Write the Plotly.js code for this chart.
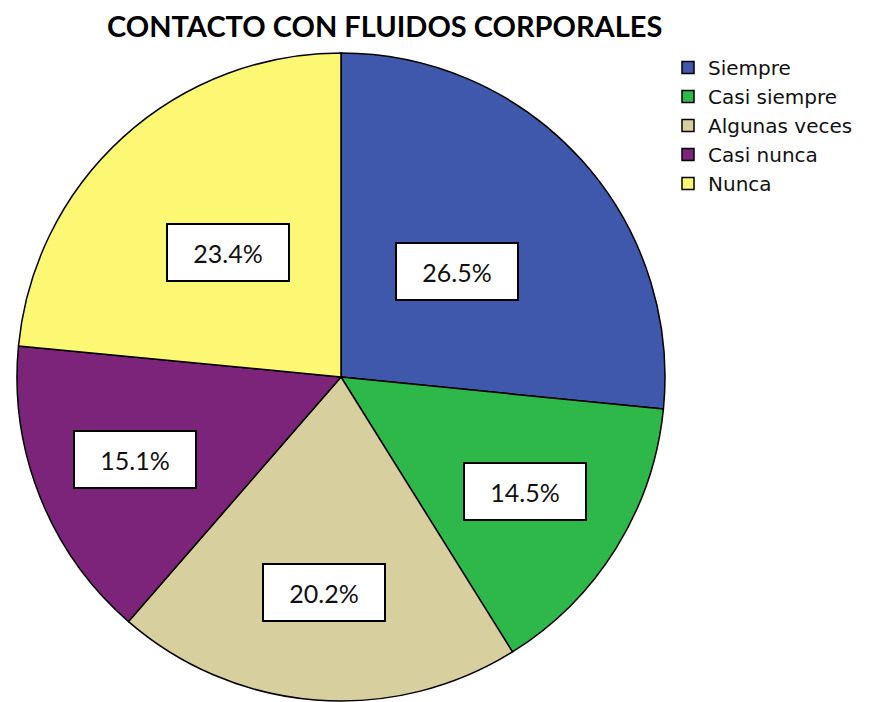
<!DOCTYPE html>
<html>
<head>
<meta charset="utf-8">
<script src="https://cdn.plot.ly/plotly-3.0.1.min.js"></script>
<style>html,body{margin:0;padding:0;background:#fff}#chart{width:879px;height:702px}</style>
</head>
<body>
<div id="chart"></div>
<script>
// Data
const categories = ["Siempre", "Casi siempre", "Algunas veces", "Casi nunca", "Nunca"];
const percentages = [26.5, 14.5, 20.2, 15.1, 23.4];
const percentLabels = ["26.5%", "14.5%", "20.2%", "15.1%", "23.4%"];
const colors = ["#3F58AB", "#2FB84A", "#D7CF9E", "#7B2479", "#FCF873"];
const chartTitle = "CONTACTO CON FLUIDOS CORPORALES";

// Layout (pixels)
const W = 879, H = 702;
const cx = 341, cy = 377, R = 324;
const labelRadius = [0.485, 0.667, 0.667, 0.685, 0.52];

const total = percentages.reduce((a, b) => a + b, 0);
const annotations = [];
let cum = 0;
percentages.forEach((v, i) => {
  const mid = (cum + v / 2) / total * 2 * Math.PI;
  cum += v;
  const px = cx + Math.sin(mid) * R * labelRadius[i];
  const py = cy - Math.cos(mid) * R * labelRadius[i];
  annotations.push({
    xref: "paper", yref: "paper",
    x: px / W, y: 1 - py / H,
    xanchor: "center", yanchor: "middle",
    text: percentLabels[i], showarrow: false,
    font: {family: "Lato, 'Open Sans', sans-serif", size: 25, color: "#111"},
    bgcolor: "#ffffff", bordercolor: "#000000", borderwidth: 2, borderpad: 4,
    width: 112, height: 47
  });
});

annotations.push({
  xref: "paper", yref: "paper", x: 384 / W, y: 1 - 26 / H,
  xanchor: "center", yanchor: "middle", showarrow: false,
  text: "<b>" + chartTitle + "</b>",
  font: {family: "Lato, 'Open Sans', sans-serif", size: 29, color: "#000"}
});

const trace = {
  type: "pie",
  labels: categories,
  values: percentages,
  sort: false,
  direction: "clockwise",
  rotation: 0,
  textinfo: "none",
  hoverinfo: "label+percent",
  marker: {colors: colors, line: {color: "#000000", width: 1.5}},
  domain: {x: [(cx - R) / W, (cx + R) / W], y: [1 - (cy + R) / H, 1 - (cy - R) / H]}
};

const layout = {
  width: W, height: H,
  margin: {l: 0, r: 0, t: 0, b: 0},
  paper_bgcolor: "#ffffff",
  showlegend: true,
  legend: {
    x: 668 / W, y: 1 - 48 / H, xanchor: "left", yanchor: "top",
    font: {family: "'DejaVu Sans', 'Liberation Sans', Arial, sans-serif", size: 20, color: "#111"},
    traceorder: "normal", tracegroupgap: 0, itemwidth: 30,
    bgcolor: "rgba(0,0,0,0)"
  },
  annotations: annotations
};

Plotly.newPlot("chart", [trace], layout, {displayModeBar: false, staticPlot: true});
</script>
</body>
</html>
